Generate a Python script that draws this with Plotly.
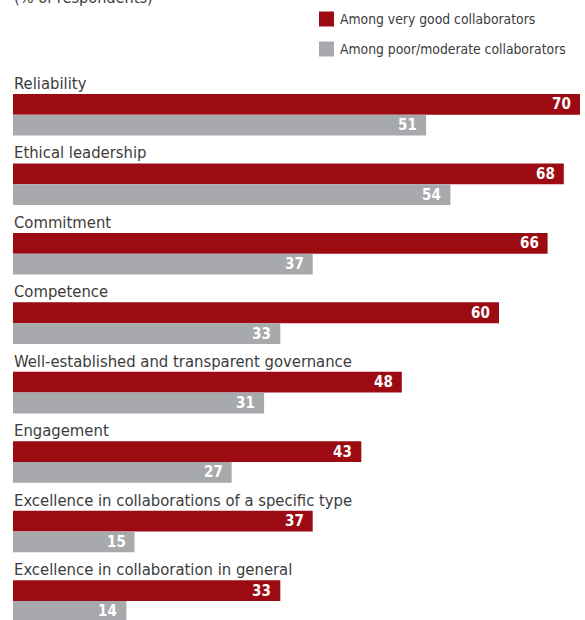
import plotly.graph_objects as go

# Survey results (% of respondents)
categories = [
    "Reliability",
    "Ethical leadership",
    "Commitment",
    "Competence",
    "Well-established and transparent governance",
    "Engagement",
    "Excellence in collaborations of a specific type",
    "Excellence in collaboration in general",
]
very_good = [70, 68, 66, 60, 48, 43, 37, 33]
poor_moderate = [51, 54, 37, 33, 31, 27, 15, 14]
series_names = ["Among very good collaborators", "Among poor/moderate collaborators"]
series_colors = ["#9c0a12", "#a8a9ad"]
subtitle = "(% of respondents)"

W, H = 585, 620
M_L, M_R, M_T, M_B = 13, 5, 40, 0
PLOT_W = W - M_L - M_R
PLOT_H = H - M_T - M_B
PITCH = 69.45          # pixels per category band
TOP_OFFSET = 1.077     # bands between plot top and first group centre
BAR_PX = 20.8          # thickness of one bar

LABEL_FONT = "DejaVu Sans Condensed, Liberation Sans Narrow, sans-serif"
TEXT_COLOR = "#3c3c3c"


def px_x(px):
    return (px - M_L) / PLOT_W


def px_y(py):
    return (H - M_B - py) / PLOT_H


fig = go.Figure()
for name, vals, color in zip(series_names, [very_good, poor_moderate], series_colors):
    fig.add_trace(go.Bar(
        x=vals, y=categories, orientation="h", name=name,
        marker=dict(color=color, line=dict(width=0)),
        showlegend=False, hoverinfo="x+y",
    ))

annotations = []
# category headings above each pair of bars
for cat in categories:
    annotations.append(dict(
        x=0, y=cat, xref="x", yref="y", text=cat, showarrow=False,
        xanchor="left", yanchor="middle", yshift=31.5, xshift=-1,
        font=dict(family=LABEL_FONT, size=16.5, color=TEXT_COLOR),
    ))
# value labels inside bar ends
for vals, shift in [(very_good, BAR_PX / 2), (poor_moderate, -BAR_PX / 2)]:
    for cat, v in zip(categories, vals):
        annotations.append(dict(
            x=v, y=cat, xref="x", yref="y", text=f"<b>{v}</b>", showarrow=False,
            xanchor="right", yanchor="middle", xshift=-7, yshift=shift,
            font=dict(family=LABEL_FONT, size=15, color="white"),
        ))

# legend
shapes = []
for i, (name, color) in enumerate(zip(series_names, series_colors)):
    cy = 19 + i * 30
    shapes.append(dict(
        type="rect", xref="paper", yref="paper",
        x0=px_x(319), x1=px_x(334), y0=px_y(cy - 7.5), y1=px_y(cy + 7.5),
        fillcolor=color, line=dict(width=0),
    ))
    annotations.append(dict(
        x=px_x(338), y=px_y(cy), xref="paper", yref="paper", text=name,
        showarrow=False, xanchor="left", yanchor="middle",
        font=dict(family=LABEL_FONT, size=13.8, color=TEXT_COLOR),
    ))

# subtitle, running off the top edge
annotations.append(dict(
    x=px_x(12), y=px_y(9), xref="paper", yref="paper", text=subtitle,
    showarrow=False, xanchor="left", yanchor="bottom",
    font=dict(family=LABEL_FONT, size=16.2, color=TEXT_COLOR),
))

span = PLOT_H / PITCH
fig.update_layout(
    width=W, height=H,
    margin=dict(l=M_L, r=M_R, t=M_T, b=M_B, pad=0),
    paper_bgcolor="white", plot_bgcolor="white",
    barmode="group", bargap=1 - 2 * BAR_PX / PITCH, bargroupgap=0,
    xaxis=dict(range=[0, 70], visible=False, fixedrange=True),
    yaxis=dict(range=[span - TOP_OFFSET, -TOP_OFFSET], visible=False, fixedrange=True),
    annotations=annotations, shapes=shapes,
)

fig.write_html("out.html")
